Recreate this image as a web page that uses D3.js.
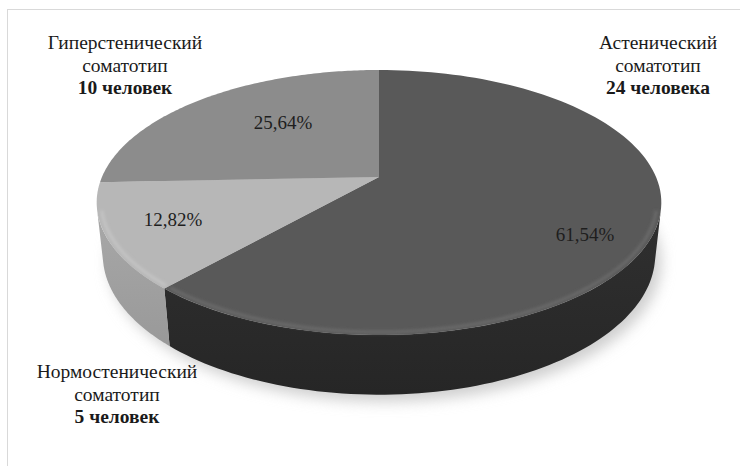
<!DOCTYPE html>
<html><head><meta charset="utf-8">
<script src="https://cdn.jsdelivr.net/npm/d3@7"></script>
<style>
html,body{margin:0;padding:0;background:#fff;}
svg{display:block;}
svg text{font-family:"Liberation Serif","DejaVu Serif","Times New Roman",Times,serif;}
</style></head>
<body>
<svg id="chart" width="740" height="466"></svg>
<script>
// ---- data ----
const categories = ["Астенический", "Нормостенический", "Гиперстенический"];
const subtitle = ["соматотип", "соматотип", "соматотип"];
const counts = [24, 5, 10];
const countLabels = ["24 человека", "5 человек", "10 человек"];

// ---- layout / style ----
const topColors = ["#595959", "#b7b7b7", "#8c8c8c"];
const sideColors = [["#262626", "#303030"], ["#999999", "#a8a8a8"], ["#7a7a7a", "#858585"]];
const rimColors = ["#6a6a6a", "#c4c4c4", "#9a9a9a"];
const catLabelPos = [[658, 49], [117, 378], [125, 49]];
const pctLabelPos = [[585, 241], [173, 226], [283, 129]];

const W = 740, H = 466;
const svg = d3.select("#chart");
const defs = svg.append("defs");

// perspective projection of a disk
const cx = 379, cy = 177, k = 1278, dist = 4.613;
const alpha = Math.asin(0.4606);
const sinA = Math.sin(alpha), cosA = Math.cos(alpha);
const thick = 0.215;
function project(phi, rad, y) {
  const X = rad * Math.sin(phi), Z = rad * Math.cos(phi);
  const depth = dist - y * sinA + Z * cosA;
  const yc = y * cosA + Z * sinA;
  return [cx + k * X / depth, cy - k * yc / depth];
}
// visible range of the outer wall
const cVis = -1 / (dist * cosA);
const vis0 = Math.acos(cVis), vis1 = 2 * Math.PI - Math.acos(cVis);

const pie = d3.pie().sort(null).startAngle(0).endAngle(2 * Math.PI)(counts);
const total = d3.sum(counts);
const fmt = v => d3.format(".2f")(v).replace(".", ",") + "%";

// frame
svg.append("rect").attr("x", 7.5).attr("y", 9.5).attr("width", 800).attr("height", 500)
  .attr("fill", "none").attr("stroke", "#d9d9d9").attr("stroke-width", 1);

// filters
const blur = defs.append("filter").attr("id", "shadow").attr("x", "-20%").attr("y", "-20%").attr("width", "140%").attr("height", "140%");
blur.append("feGaussianBlur").attr("stdDeviation", 7);
const rimBlur = defs.append("filter").attr("id", "rimblur").attr("x", "-10%").attr("y", "-10%").attr("width", "120%").attr("height", "120%");
rimBlur.append("feGaussianBlur").attr("stdDeviation", 1.8);

const line = d3.line();
function arcPts(a0, a1, rad, y, n) {
  const pts = [];
  for (let i = 0; i <= n; i++) pts.push(project(a0 + (a1 - a0) * i / n, rad, y));
  return pts;
}

// shadow under the pie
const shadowPts = arcPts(0, 2 * Math.PI, 1.0, -thick, 200).map(p => [p[0] + 6, p[1] + 7]);
svg.append("path").attr("d", line(shadowPts) + "Z").attr("fill", "#cfcfcf").attr("filter", "url(#shadow)");

// sides
pie.forEach((s, i) => {
  const a0 = Math.max(s.startAngle, vis0), a1 = Math.min(s.endAngle, vis1);
  if (a1 <= a0) return;
  const topRim = arcPts(a0, a1, 1, 0, 80);
  const botRim = arcPts(a1, a0, 1, -thick, 80);
  const gid = "side" + i;
  const g = defs.append("linearGradient").attr("id", gid).attr("x1", 0).attr("y1", 0).attr("x2", 0).attr("y2", 1);
  g.append("stop").attr("offset", "0%").attr("stop-color", sideColors[i][1]);
  g.append("stop").attr("offset", "100%").attr("stop-color", sideColors[i][0]);
  svg.append("path").attr("d", line(topRim.concat(botRim)) + "Z").attr("fill", "url(#" + gid + ")");
});

// tops
pie.forEach((s, i) => {
  const pts = [project(0, 0, 0)].concat(arcPts(s.startAngle, s.endAngle, 1, 0, 120));
  svg.append("path").attr("d", line(pts) + "Z").attr("fill", topColors[i]);
});

// bevel highlight along the front rim
pie.forEach((s, i) => {
  const a0 = Math.max(s.startAngle, vis0), a1 = Math.min(s.endAngle, vis1);
  if (a1 <= a0) return;
  const pts = arcPts(a0 + 0.01, a1 - 0.01, 0.985, 0, 80);
  svg.append("path").attr("d", line(pts)).attr("fill", "none")
    .attr("stroke", rimColors[i]).attr("stroke-width", 3).attr("filter", "url(#rimblur)");
});

// percent labels
pie.forEach((s, i) => {
  svg.append("text").attr("x", pctLabelPos[i][0]).attr("y", pctLabelPos[i][1])
    .attr("text-anchor", "middle").attr("font-size", 19)
    .attr("fill", "#1e1e1e").text(fmt(counts[i] / total * 100));
});

// category labels
categories.forEach((c, i) => {
  const t = svg.append("text").attr("x", catLabelPos[i][0]).attr("y", catLabelPos[i][1])
    .attr("text-anchor", "middle").attr("font-size", 19.5).attr("fill", "#1a1a1a");
  t.append("tspan").attr("x", catLabelPos[i][0]).attr("dy", 0).text(c);
  t.append("tspan").attr("x", catLabelPos[i][0]).attr("dy", 22.5).text(subtitle[i]);
  t.append("tspan").attr("x", catLabelPos[i][0]).attr("dy", 22.5).attr("font-weight", "bold").text(countLabels[i]);
});
</script>
</body></html>
